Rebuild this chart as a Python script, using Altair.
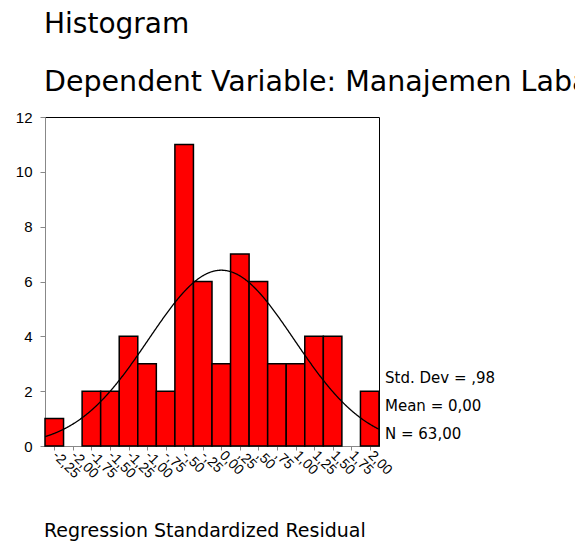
import altair as alt
import pandas as pd

# ---- data ----
bin_centers = [-2.25, -2.00, -1.75, -1.50, -1.25, -1.00, -0.75, -0.50, -0.25,
               0.00, 0.25, 0.50, 0.75, 1.00, 1.25, 1.50, 1.75, 2.00]
counts = [1, 0, 2, 2, 4, 3, 2, 11, 6, 3, 7, 6, 3, 3, 4, 4, 0, 2]
tick_labels = ["-2,25", "-2,00", "-1,75", "-1,50", "-1,25", "-1,00", "-,75", "-,50",
               "-,25", "0,00", ",25", ",50", ",75", "1,00", "1,25", "1,50", "1,75", "2,00"]
y_ticks = [0, 2, 4, 6, 8, 10, 12]
stat_labels = ["Std. Dev = ,98", "Mean = 0,00", "N = 63,00"]
MEAN = 0.0
SD = 0.98
N = 63
BIN = 0.25

title_1 = "Histogram"
title_2 = "Dependent Variable: Manajemen Laba"
x_title = "Regression Standardized Residual"

FONT = "DejaVu Sans"
W, H = 334, 329
x_lo = bin_centers[0] - BIN / 2
x_hi = bin_centers[-1] + BIN / 2

df = pd.DataFrame({"center": bin_centers, "count": counts})

label_arr = "[" + ",".join("'" + s + "'" for s in tick_labels) + "]"
label_expr = f"{label_arr}[round((datum.value - ({bin_centers[0]})) / {BIN})]"

x_scale = alt.Scale(domain=[x_lo, x_hi], nice=False, zero=False)
y_scale = alt.Scale(domain=[0, 12], nice=False)

x_axis = alt.Axis(values=bin_centers, labelExpr=label_expr, labelAngle=45,
                  labelAlign="left", labelBaseline="middle", tickSize=4,
                  labelFontSize=14, labelPadding=3, labelOverlap=False,
                  title=None, grid=False, labelFlush=False)
y_axis = alt.Axis(values=y_ticks, tickSize=5, labelPadding=8, labelFontSize=15,
                  title=None, grid=False)

bars = alt.Chart(df).transform_filter("datum.count > 0").transform_calculate(
    lo=f"datum.center - {BIN / 2}", hi=f"datum.center + {BIN / 2}"
).mark_rect(fill="#ff0000", stroke="black", strokeWidth=1.5).encode(
    x=alt.X("lo:Q", scale=x_scale, axis=x_axis),
    x2="hi:Q",
    y=alt.Y("count:Q", scale=y_scale, axis=y_axis),
    y2=alt.datum(0),
)

curve = alt.Chart(alt.sequence(x_lo, x_hi + 0.001, 0.005, as_="x")).transform_calculate(
    y=f"{N * BIN} / ({SD} * sqrt(2 * PI)) * exp(-0.5 * pow((datum.x - {MEAN}) / {SD}, 2))"
).mark_line(color="black", strokeWidth=1.3, clip=True).encode(
    x=alt.X("x:Q", scale=x_scale, axis=x_axis),
    y=alt.Y("y:Q", scale=y_scale, axis=y_axis),
)

one = pd.DataFrame({"k": [0]})

def label(text, x, y, size):
    return alt.Chart(one).mark_text(
        text=text, align="left", baseline="alphabetic", font=FONT, fontSize=size,
        color="black", lineHeight=28
    ).encode(x=alt.value(x), y=alt.value(y))

t1 = label(title_1, -1, -84, 28)
t2 = label(title_2, -1, -26, 28.5)
xt = label(x_title, -1, 420, 19)
stats = label(stat_labels, 340, 266, 15)

chart = alt.layer(bars, curve, t1, t2, xt, stats).properties(
    width=W, height=H,
    autosize=alt.AutoSizeParams(type="none"),
    padding={"left": 37, "top": 109, "right": 196, "bottom": 98},
    view=alt.ViewBackground(stroke="black", strokeWidth=1),
).configure_view(stroke="black", strokeWidth=1).configure_axis(
    domainColor="black", tickColor="black", labelColor="black", labelFont=FONT,
    domainWidth=1, tickWidth=1
).configure_axisX(labelOverlap=False).configure(background="white")

chart.save("out.html", embed_options={"renderer": "svg", "actions": False})
